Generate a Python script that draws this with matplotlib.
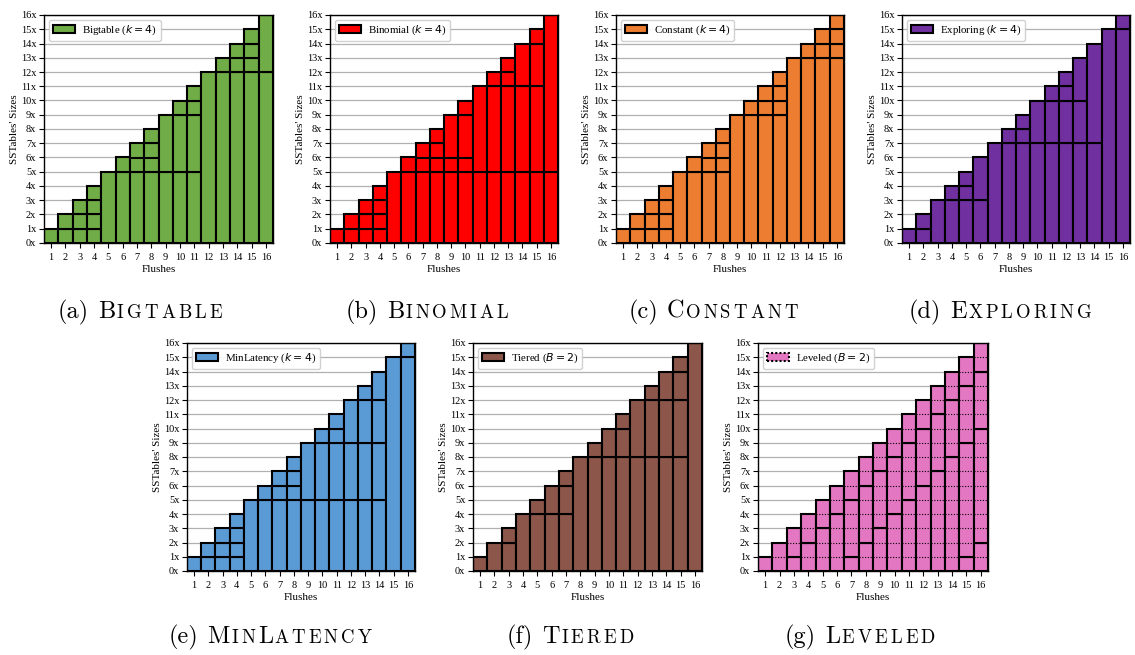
import matplotlib
matplotlib.use("Agg")
import matplotlib.pyplot as plt
from matplotlib.patches import Patch

flushes = list(range(1, 17))
bigtable = [[1], [1, 1], [1, 1, 1], [1, 1, 1, 1], [5], [5, 1], [5, 1, 1], [5, 1, 1, 1],
            [5, 4], [5, 4, 1], [5, 4, 1, 1], [12], [12, 1], [12, 1, 1], [12, 1, 1, 1], [12, 4]]
binomial = [[1], [1, 1], [1, 1, 1], [1, 1, 1, 1], [5], [5, 1], [5, 1, 1], [5, 1, 1, 1],
            [5, 1, 3], [5, 1, 3, 1], [5, 6], [5, 6, 1], [5, 6, 1, 1], [5, 6, 3], [5, 6, 3, 1], [5, 11]]
constant = [[1], [1, 1], [1, 1, 1], [1, 1, 1, 1], [5], [5, 1], [5, 1, 1], [5, 1, 1, 1],
            [9], [9, 1], [9, 1, 1], [9, 1, 1, 1], [13], [13, 1], [13, 1, 1], [13, 1, 1, 1]]
exploring = [[1], [1, 1], [3], [3, 1], [3, 1, 1], [3, 3], [7], [7, 1],
             [7, 1, 1], [7, 3], [7, 3, 1], [7, 3, 1, 1], [7, 3, 3], [7, 7], [15], [15, 1]]
minlatency = [[1], [1, 1], [1, 1, 1], [1, 1, 1, 1], [5], [5, 1], [5, 1, 1], [5, 1, 1, 1],
              [5, 4], [5, 4, 1], [5, 4, 1, 1], [5, 4, 3], [5, 4, 3, 1], [5, 4, 3, 2], [15], [15, 1]]
tiered = [[1], [2], [2, 1], [4], [4, 1], [4, 2], [4, 2, 1], [8],
          [8, 1], [8, 2], [8, 2, 1], [8, 4], [8, 4, 1], [8, 4, 2], [8, 4, 2, 1], [16]]
leveled = [[1], [2], [1, 2], [2, 2], [3, 2], [4, 2], [1, 4, 2], [2, 4, 2],
           [3, 4, 2], [4, 4, 2], [5, 4, 2], [6, 4, 2], [7, 4, 2], [8, 4, 2], [1, 8, 4, 2], [2, 8, 4, 2]]

ytick_labels = [f"{i}x" for i in range(17)]

panels = [
    (bigtable, "#70AD47", r"Bigtable ($k = 4$)", "(a)", "Bigtable", False),
    (binomial, "#FF0000", r"Binomial ($k = 4$)", "(b)", "Binomial", False),
    (constant, "#ED7D31", r"Constant ($k = 4$)", "(c)", "Constant", False),
    (exploring, "#7030A0", r"Exploring ($k = 4$)", "(d)", "Exploring", False),
    (minlatency, "#5B9BD5", r"MinLatency ($k = 4$)", "(e)", "MinLatency", False),
    (tiered, "#8C564B", r"Tiered ($B = 2$)", "(f)", "Tiered", False),
    (leveled, "#E377C2", r"Leveled ($B = 2$)", "(g)", "Leveled", True),
]

W, H = 1135, 655
fig = plt.figure(figsize=(W / 100, H / 100), dpi=100)

# axes boxes in pixels: left, top, right, bottom
boxes = [(44, 15, 273, 243), (330, 15, 558, 243), (616, 15, 844, 243), (902, 15, 1130, 243),
         (187, 343, 415, 571), (473, 343, 702, 571), (758, 343, 988, 571)]
caption_pos = [(140, 318), (427, 318), (713, 318), (1000, 318),
               (270, 643), (570, 643), (860, 643)]

serif = "Liberation Serif"
renderer = fig.canvas.get_renderer()
BIG, SMALL, TRACK, SPACE = 17.5, 13.5, 3.0, 9.0


def caption(xc, yb, prefix, word):
    # pieces: (text, size, extra spacing after)
    pieces = [(prefix, BIG, SPACE)]
    for ch in word:
        if ch.isupper():
            pieces.append((ch, BIG, 1.5))
        else:
            pieces.append((ch.upper(), SMALL, TRACK))
    texts = []
    for s, size, extra in pieces:
        t = fig.text(0, 0, s, fontsize=size, family="cmr10", va="baseline", ha="left")
        texts.append((t, t.get_window_extent(renderer).width, extra))
    total = sum(w + e for _, w, e in texts) - texts[-1][2]
    x = xc - total / 2
    for t, w, e in texts:
        t.set_position((x / W, 1 - yb / H))
        x += w + e


for (data, color, label, prefix, word, dotted), box, cpos in zip(panels, boxes, caption_pos):
    l, t, r, b = box
    ax = fig.add_axes([l / W, 1 - b / H, (r - l) / W, (b - t) / H])
    ax.set_axisbelow(True)
    ax.yaxis.grid(True, color="#b0b0b0", lw=0.9)
    for x, segs in zip(flushes, data):
        bottom = 0
        for s in segs:
            ax.bar(x, s, bottom=bottom, width=1.0, color=color, edgecolor="black", linewidth=1.5, zorder=2)
            bottom += s
        if dotted:
            for yy in range(1, bottom):
                ax.hlines(yy, x - 0.5, x + 0.5, colors="black", linestyles=(0, (1, 1.5)), linewidth=0.8, zorder=3)
    ax.set_xlim(0.5, 16.5)
    ax.set_ylim(0, 16)
    ax.set_xticks(flushes)
    ax.set_xticklabels([str(f) for f in flushes], family=serif, fontsize=7.5)
    ax.set_yticks(range(17))
    ax.set_yticklabels(ytick_labels, family=serif, fontsize=7.5)
    ax.tick_params(axis="both", length=3.5, width=0.8)
    ax.tick_params(axis="x", pad=3.5)
    ax.tick_params(axis="y", pad=2)
    ax.set_xlabel("Flushes", family=serif, fontsize=8, labelpad=2.5)
    ax.set_ylabel("SSTables' Sizes", family=serif, fontsize=8, labelpad=1)
    for sp in ax.spines.values():
        sp.set_linewidth(1.0)
    handle = Patch(facecolor=color, edgecolor="black", linewidth=1.5,
                   linestyle=(0, (1, 1)) if dotted else "-")
    ax.legend([handle], [label], loc="upper left", prop={"family": serif, "size": 7.8},
              fancybox=True, framealpha=0.9, handlelength=2.1, handletextpad=0.6,
              borderpad=0.35, borderaxespad=0.45)
    caption(cpos[0], cpos[1], prefix, word)

fig.savefig("out.png", dpi=100)
